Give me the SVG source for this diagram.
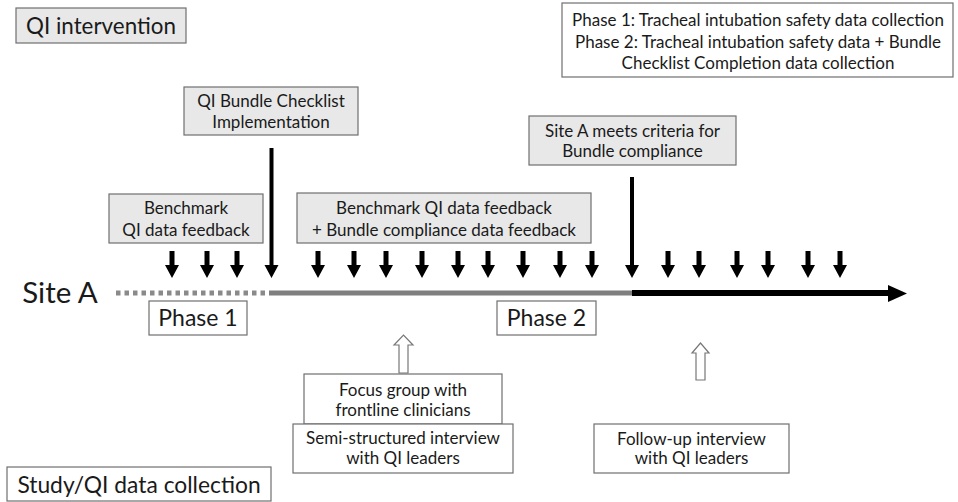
<svg xmlns="http://www.w3.org/2000/svg" xmlns:xlink="http://www.w3.org/1999/xlink" width="958" height="502" viewBox="0 0 958 502">
<style>
text{font-family:Lato,"Open Sans","Liberation Sans",sans-serif;fill:#1a1a1a;text-anchor:middle}
.g{fill:#e8e8e8;stroke:#6f6f6f;stroke-width:1.2}
.w{fill:#fff;stroke:#6f6f6f;stroke-width:1.2}
.s15{font-size:17px}
.hol{fill:#fff;stroke:#777;stroke-width:1.2}
</style>
<defs>
<polygon id="dn" points="-2.5,0 2.5,0 2.5,14 7,14 0,27 -7,14 -2.5,14"/>
</defs>
<rect width="958" height="502" fill="#fff"/>
<g id="qi-intervention"><rect class="g" x="16" y="8" width="170" height="35"/><text x="101" y="34" style="font-size:22.4px">QI intervention</text></g>
<g id="legend"><rect class="w" x="562" y="3" width="391" height="74"/>
<text class="s15" x="758" y="26">Phase 1: Tracheal intubation safety data collection</text>
<text class="s15" x="758" y="48">Phase 2: Tracheal intubation safety data + Bundle</text>
<text class="s15" x="758" y="69">Checklist Completion data collection</text></g>
<g id="bundle-impl"><rect class="g" x="184" y="87" width="174" height="48"/><text class="s15" x="271" y="107">QI Bundle Checklist</text><text class="s15" x="271" y="128">Implementation</text></g>
<g id="site-criteria"><rect class="g" x="529" y="116" width="207" height="49"/><text class="s15" x="632.5" y="137">Site A meets criteria for</text><text class="s15" x="632.5" y="157">Bundle compliance</text></g>
<g id="benchmark"><rect class="g" x="109" y="194" width="154" height="49"/><text class="s15" x="186" y="214">Benchmark</text><text class="s15" x="186" y="236">QI data feedback</text></g>
<g id="benchmark-bundle"><rect class="g" x="297" y="193" width="294" height="50"/><text class="s15" x="444" y="214">Benchmark QI data feedback</text><text class="s15" x="444" y="236">+ Bundle compliance data feedback</text></g>
<g id="site-a"><text x="60" y="303" style="font-size:29.5px">Site A</text></g>
<g id="phase1"><rect class="w" x="149" y="301" width="98" height="34"/><text x="198" y="326" style="font-size:23px">Phase 1</text></g>
<g id="phase2"><rect class="w" x="497" y="301" width="99" height="34"/><text x="546.5" y="326" style="font-size:23px">Phase 2</text></g>
<g id="focus-group"><rect class="w" x="304" y="374" width="198" height="50"/><text class="s15" x="403" y="396">Focus group with</text><text class="s15" x="403" y="416">frontline clinicians</text></g>
<g id="semi-structured"><rect class="w" x="293" y="424" width="220" height="49"/><text class="s15" x="403" y="444">Semi-structured interview</text><text class="s15" x="403" y="464">with QI leaders</text></g>
<g id="follow-up"><rect class="w" x="594" y="424" width="195" height="49"/><text class="s15" x="691.5" y="445">Follow-up interview</text><text class="s15" x="691.5" y="464">with QI leaders</text></g>
<g id="study-data"><rect class="w" x="7" y="467" width="264" height="34"/><text x="139" y="493" style="font-size:22.8px">Study/QI data collection</text></g>
<g id="connectors">
<line x1="116" y1="293" x2="269" y2="293" stroke="#8a8a8a" stroke-width="5" stroke-dasharray="4.5,4"/>
<line x1="269" y1="293" x2="632" y2="293" stroke="#7f7f7f" stroke-width="5"/>
<line x1="632" y1="293" x2="890" y2="293" stroke="#000" stroke-width="6"/>
<polygon points="888,285 907,293.5 888,302" fill="#000"/>
<g fill="#000">
<use xlink:href="#dn" x="172" y="251"/><use xlink:href="#dn" x="207" y="251"/><use xlink:href="#dn" x="237" y="251"/>
<use xlink:href="#dn" x="318" y="251"/><use xlink:href="#dn" x="354" y="251"/><use xlink:href="#dn" x="386" y="251"/><use xlink:href="#dn" x="422" y="251"/><use xlink:href="#dn" x="458" y="251"/><use xlink:href="#dn" x="488" y="251"/><use xlink:href="#dn" x="523" y="251"/><use xlink:href="#dn" x="560" y="251"/><use xlink:href="#dn" x="592" y="251"/>
<use xlink:href="#dn" x="668" y="251"/><use xlink:href="#dn" x="699" y="251"/><use xlink:href="#dn" x="737" y="251"/><use xlink:href="#dn" x="768" y="251"/><use xlink:href="#dn" x="808" y="251"/><use xlink:href="#dn" x="840" y="251"/>
<polygon points="269.5,148 273.5,148 273.5,265 278.5,265 271.5,278 264.5,265 269.5,265"/>
<polygon points="630,177 634,177 634,265 639,265 632,278 625,265 630,265"/>
</g>
<polygon class="hol" points="399,373 408,373 408,345 413,345 403.5,335 394,345 399,345"/>
<polygon class="hol" points="696,380 705,380 705,353 709,353 700.5,343 692,353 696,353"/>
</g>
</svg>
